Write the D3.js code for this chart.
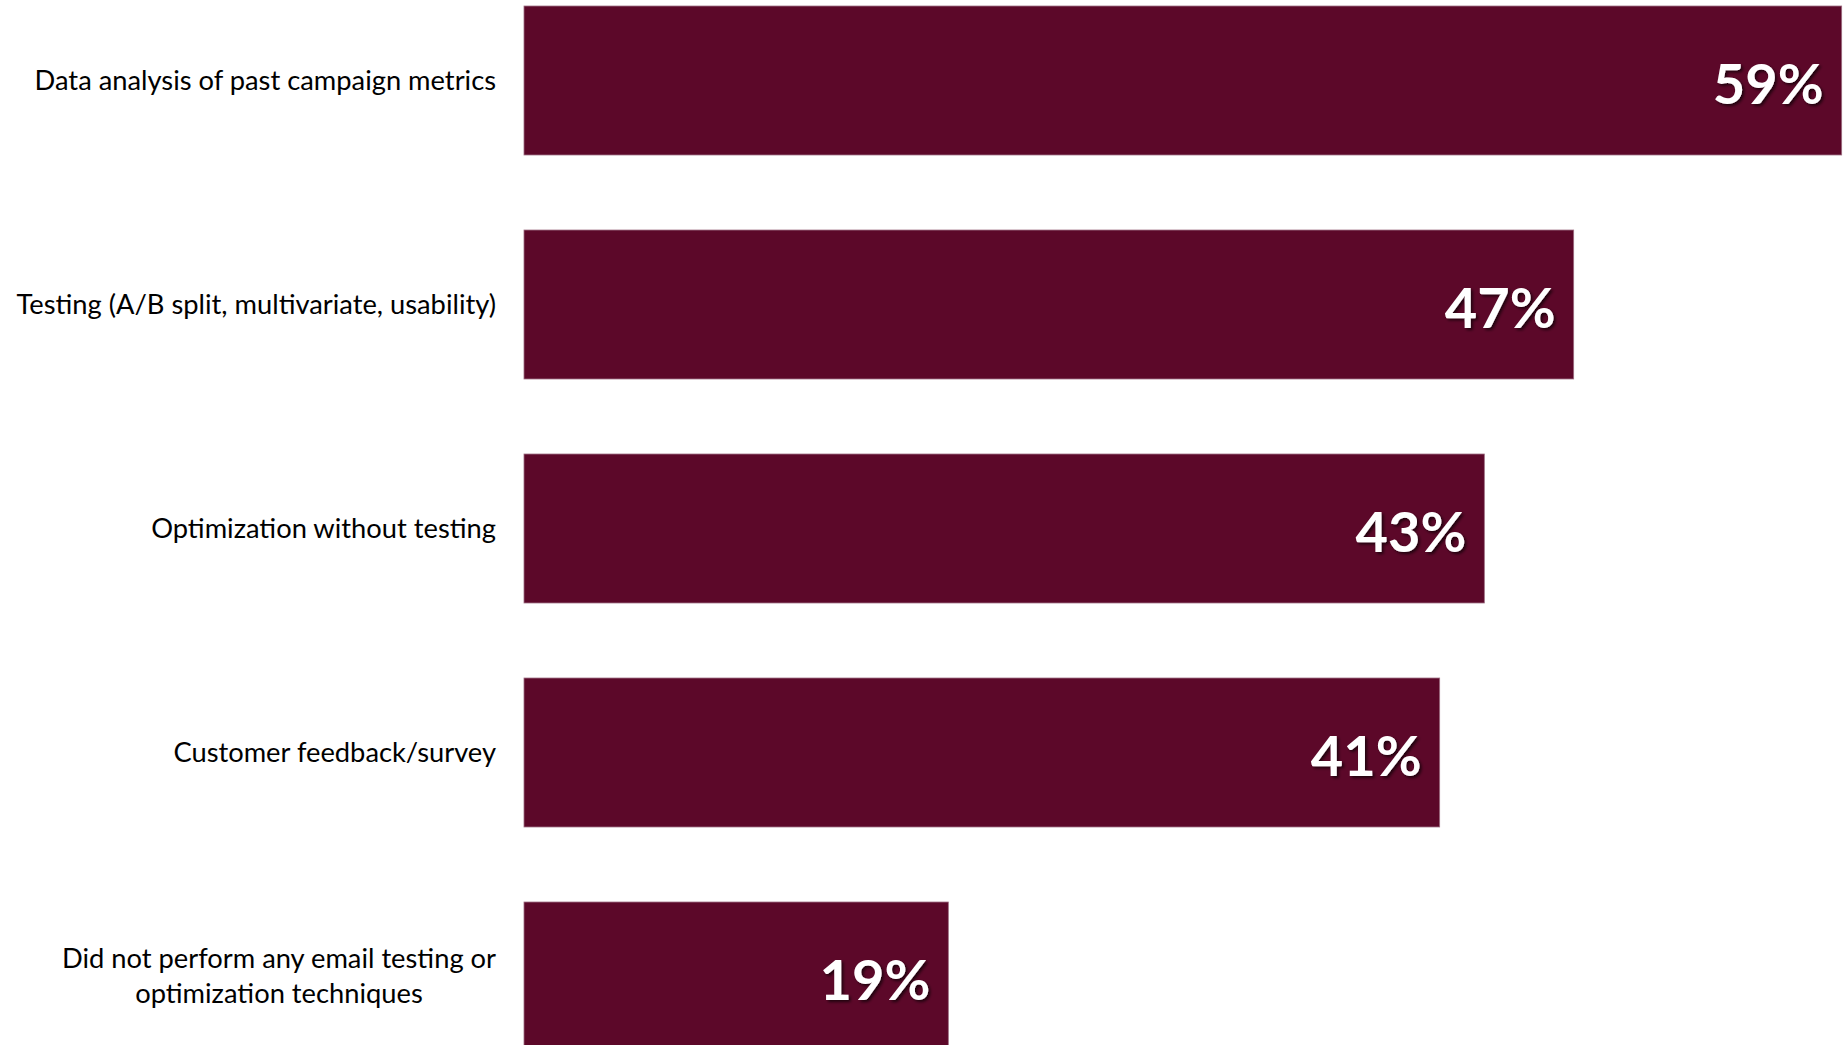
<!DOCTYPE html>
<html>
<head>
<meta charset="utf-8">
<script src="https://cdn.jsdelivr.net/npm/d3@7"></script>
<style>
  html, body { margin: 0; padding: 0; background: #ffffff; overflow: hidden; }
  svg { display: block; }
</style>
</head>
<body>
<svg id="chart" width="1847" height="1045"></svg>
<script>
// ---- data ----
const categories = [
  "Data analysis of past campaign metrics",
  "Testing (A/B split, multivariate, usability)",
  "Optimization without testing",
  "Customer feedback/survey",
  "Did not perform any email testing or\noptimization techniques"
];
const values = [59, 47, 43, 41, 19];
const valueLabels = ["59%", "47%", "43%", "41%", "19%"];

// ---- layout ----
const svg = d3.select("#chart");

const defs = svg.append("defs");
const f = defs.append("filter").attr("id", "shadow")
  .attr("x", "-20%").attr("y", "-20%").attr("width", "140%").attr("height", "140%");
f.append("feDropShadow")
  .attr("dx", 2).attr("dy", 2).attr("stdDeviation", 1.4)
  .attr("flood-color", "#000").attr("flood-opacity", 0.65);

const x = d3.scaleLinear().domain([0, 60]).range([524, 1864]);
const y = d3.scaleBand()
  .domain(categories)
  .range([-31.5, 1088.5])
  .paddingInner(0.335)
  .paddingOuter(0.1675);

const data = categories.map((c, i) => ({ c, v: values[i], lbl: valueLabels[i] }));

// bars
svg.append("g").selectAll("rect").data(data).join("rect")
  .attr("x", x(0))
  .attr("y", d => y(d.c))
  .attr("width", d => x(d.v) - x(0))
  .attr("height", y.bandwidth())
  .attr("fill", "#5c0829")
  .attr("stroke", "#9c6c80")
  .attr("stroke-width", 0.8);

// category labels
const labelFont = "Lato, 'Open Sans', sans-serif";
const lineGap = 35.7;
const catG = svg.append("g")
  .attr("font-family", labelFont)
  .attr("font-size", 27.3)
  .attr("fill", "#000");

data.forEach(d => {
  const lines = d.c.split("\n");
  const cy = y(d.c) + y.bandwidth() / 2;
  const t = catG.append("text");
  const first = cy + 9 - (lines.length - 1) * lineGap / 2;
  lines.forEach((ln, j) => {
    t.append("tspan").attr("y", first + j * lineGap).text(ln);
  });
  if (lines.length === 1) {
    t.attr("text-anchor", "end").selectAll("tspan").attr("x", 496);
  } else {
    // centre-aligned block, right edge at 496
    let maxW = 0;
    t.selectAll("tspan").each(function () { maxW = Math.max(maxW, this.getComputedTextLength()); });
    t.attr("text-anchor", "middle").selectAll("tspan").attr("x", 496 - maxW / 2);
  }
});

// value labels
svg.append("g").selectAll("text").data(data).join("text")
  .attr("x", d => x(d.v) - 18)
  .attr("y", d => y(d.c) + y.bandwidth() / 2 + 23)
  .attr("text-anchor", "end")
  .attr("font-family", "Lato, 'Open Sans', sans-serif")
  .attr("font-weight", "bold")
  .attr("font-size", 56)
  .attr("fill", "#ffffff")
  .attr("filter", "url(#shadow)")
  .text(d => d.lbl);
</script>
</body>
</html>
